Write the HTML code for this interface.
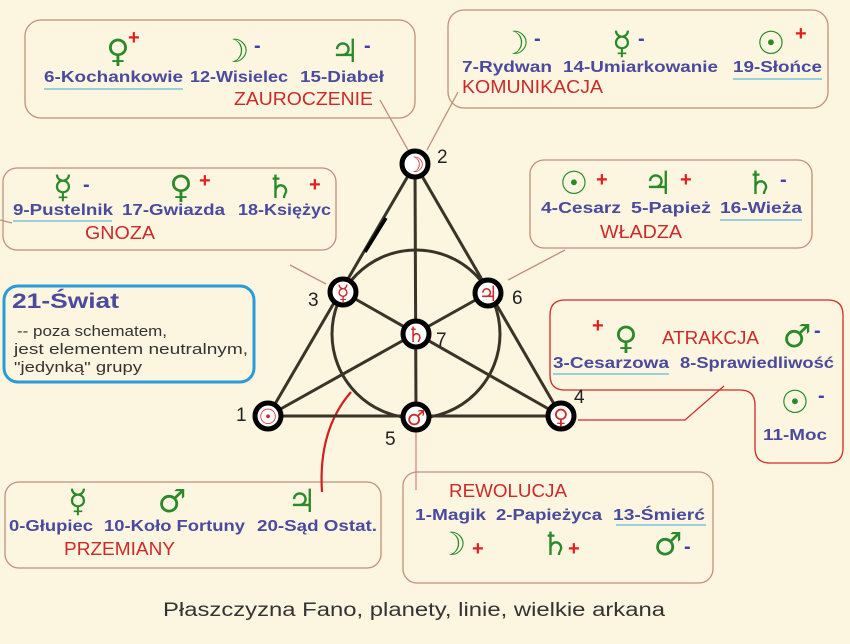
<!DOCTYPE html>
<html><head><meta charset="utf-8"><style>
html,body{margin:0;padding:0;background:#fcf5df;}
svg{display:block;}
.b{font-family:"Liberation Sans","DejaVu Sans",sans-serif;font-weight:bold;font-size:16px;fill:#4a4a9e;}
.r{font-family:"Liberation Sans","DejaVu Sans",sans-serif;font-size:18px;fill:#cc2a2a;}
.g{font-family:"DejaVu Sans",sans-serif;font-size:32px;fill:#2a8a2a;text-anchor:middle;}
.p{font-family:"Liberation Sans",sans-serif;font-weight:bold;font-size:20px;fill:#e02020;}
.m{font-family:"Liberation Sans",sans-serif;font-weight:bold;font-size:20px;fill:#4040b0;}
.n{font-family:"Liberation Sans",sans-serif;font-size:19px;fill:#222;}
.s{font-family:"DejaVu Sans",sans-serif;font-size:21px;fill:#d02a2a;text-anchor:middle;}
.t{font-family:"Liberation Sans","DejaVu Sans",sans-serif;font-size:15px;fill:#333;}
</style></head><body>
<svg width="850" height="644" viewBox="0 0 850 644" xmlns="http://www.w3.org/2000/svg">
<rect width="850" height="644" fill="#fcf5df"/>
<g fill="none" stroke="#c0907c" stroke-width="1.3">
<rect x="25" y="20" width="390" height="98" rx="16"/>
<rect x="448" y="10" width="380" height="98" rx="16"/>
<rect x="3" y="168" width="333" height="82" rx="14"/>
<rect x="530" y="160" width="282" height="88" rx="14"/>
<rect x="5" y="482" width="376" height="86" rx="14"/>
<rect x="403" y="472" width="310" height="111" rx="14"/>
<line x1="380" y1="100" x2="408" y2="150"/>
<line x1="458" y1="92" x2="427" y2="150"/>
<line x1="290" y1="265" x2="326" y2="284"/>
<line x1="565" y1="250" x2="508" y2="280"/>
<line x1="0" y1="220" x2="12" y2="223"/>
</g>
<rect x="4" y="286" width="250" height="96" rx="14" fill="none" stroke="#2a9ad8" stroke-width="3"/>
<path d="M565,300 H828 Q843,300 843,315 V448 Q843,463 828,463 H770 Q755,463 755,448 V405 Q755,390 740,390 H565 Q550,390 550,375 V315 Q550,300 565,300 Z" fill="none" stroke="#d02a2a" stroke-width="1.3"/>
<polyline points="578,420 685,420 724,386" fill="none" stroke="#d02a2a" stroke-width="1.2"/>
<line x1="416" y1="432" x2="416" y2="490" stroke="#d08080" stroke-width="1.2"/>
<path d="M351,392 Q318,430 322,492" fill="none" stroke="#d02020" stroke-width="2.2"/>
<g stroke="#3a3428" stroke-width="3" fill="none">
<line x1="415" y1="164" x2="268" y2="416"/>
<line x1="415" y1="164" x2="561" y2="416"/>
<line x1="268" y1="416" x2="561" y2="416"/>
<line x1="415" y1="164" x2="416" y2="417"/>
<line x1="343" y1="292" x2="561" y2="416"/>
<line x1="488" y1="293" x2="268" y2="416"/>
<circle cx="416" cy="334" r="84"/>
</g>
<line x1="365" y1="252" x2="386" y2="218" stroke="#000" stroke-width="3.5"/>
<g fill="#fff" stroke="#000" stroke-width="5">
<circle cx="415" cy="164" r="13"/><circle cx="343" cy="292" r="13"/><circle cx="488" cy="293" r="13"/>
<circle cx="416" cy="334" r="13"/><circle cx="268" cy="416" r="13"/><circle cx="416" cy="417" r="13"/><circle cx="561" cy="416" r="13"/>
</g>
<text class="s" x="415" y="172">☽</text><text class="s" x="343" y="300">☿</text><text class="s" x="488" y="301">♃</text>
<text class="s" x="416" y="342">♄</text><text class="s" x="268" y="424">☉</text><text class="s" x="416" y="425">♂</text><text class="s" x="561" y="424">♀</text>
<text class="n" x="437" y="163">2</text><text class="n" x="308" y="306">3</text><text class="n" x="512" y="304">6</text>
<text class="n" x="436" y="346">7</text><text class="n" x="236" y="421">1</text><text class="n" x="385" y="445">5</text><text class="n" x="574" y="403">4</text>
<!-- top-left -->
<text class="g" x="118" y="62">♀</text><text class="p" x="128" y="44">+</text>
<text class="g" x="235" y="62">☽</text><text class="m" x="254" y="52">-</text>
<text class="g" x="345" y="62">♃</text><text class="m" x="364" y="52">-</text>
<text class="b" x="44" y="82" textLength="139" lengthAdjust="spacingAndGlyphs">6-Kochankowie</text>
<text class="b" x="190" y="82" textLength="98" lengthAdjust="spacingAndGlyphs">12-Wisielec</text>
<text class="b" x="300" y="82" textLength="84" lengthAdjust="spacingAndGlyphs">15-Diabeł</text>
<line x1="44" y1="89" x2="183" y2="89" stroke="#9ad0dc" stroke-width="2"/>
<text class="r" x="234" y="105" textLength="139" lengthAdjust="spacingAndGlyphs">ZAUROCZENIE</text>
<!-- top-right -->
<text class="g" x="515" y="54">☽</text><text class="m" x="534" y="45">-</text>
<text class="g" x="622" y="54">☿</text><text class="m" x="638" y="45">-</text>
<text class="g" x="771" y="54">☉</text><text class="p" x="795" y="40">+</text>
<text class="b" x="462" y="72" textLength="90" lengthAdjust="spacingAndGlyphs">7-Rydwan</text>
<text class="b" x="563" y="72" textLength="155" lengthAdjust="spacingAndGlyphs">14-Umiarkowanie</text>
<text class="b" x="733" y="72" textLength="89" lengthAdjust="spacingAndGlyphs">19-Słońce</text>
<line x1="733" y1="79" x2="822" y2="79" stroke="#9ad0dc" stroke-width="2"/>
<text class="r" x="462" y="93" textLength="141" lengthAdjust="spacingAndGlyphs">KOMUNIKACJA</text>
<!-- gnoza -->
<text class="g" x="63" y="198">☿</text><text class="m" x="83" y="191">-</text>
<text class="g" x="181" y="198">♀</text><text class="p" x="199" y="187">+</text>
<text class="g" x="280" y="198">♄</text><text class="p" x="309" y="191">+</text>
<text class="b" x="13" y="215" textLength="100" lengthAdjust="spacingAndGlyphs">9-Pustelnik</text>
<text class="b" x="122" y="215" textLength="103" lengthAdjust="spacingAndGlyphs">17-Gwiazda</text>
<text class="b" x="238" y="215" textLength="93" lengthAdjust="spacingAndGlyphs">18-Księżyc</text>
<line x1="13" y1="221" x2="112" y2="221" stroke="#9ad0dc" stroke-width="2"/>
<text class="r" x="85" y="239" textLength="70" lengthAdjust="spacingAndGlyphs">GNOZA</text>
<!-- wladza -->
<text class="g" x="574" y="194">☉</text><text class="p" x="596" y="186">+</text>
<text class="g" x="658" y="194">♃</text><text class="p" x="680" y="186">+</text>
<text class="g" x="760" y="194">♄</text><text class="m" x="780" y="186">-</text>
<text class="b" x="541" y="213" textLength="80" lengthAdjust="spacingAndGlyphs">4-Cesarz</text>
<text class="b" x="631" y="213" textLength="80" lengthAdjust="spacingAndGlyphs">5-Papież</text>
<text class="b" x="720" y="213" textLength="82" lengthAdjust="spacingAndGlyphs">16-Wieża</text>
<line x1="720" y1="220" x2="802" y2="220" stroke="#9ad0dc" stroke-width="2"/>
<text class="r" x="600" y="238" textLength="82" lengthAdjust="spacingAndGlyphs">WŁADZA</text>
<!-- swiat -->
<text class="b" x="12" y="308" style="font-size:21px" textLength="107" lengthAdjust="spacingAndGlyphs">21-Świat</text>
<text class="t" x="17" y="336" textLength="150" lengthAdjust="spacingAndGlyphs">-- poza schematem,</text>
<text class="t" x="14" y="354" textLength="234" lengthAdjust="spacingAndGlyphs">jest elementem neutralnym,</text>
<text class="t" x="14" y="372" textLength="128" lengthAdjust="spacingAndGlyphs">"jedynką" grupy</text>
<!-- atrakcja -->
<text class="p" x="592" y="332">+</text>
<text class="g" x="626" y="349">♀</text>
<text class="r" x="662" y="344" textLength="97" lengthAdjust="spacingAndGlyphs">ATRAKCJA</text>
<text class="g" x="797" y="347">♂</text><text class="m" x="814" y="337">-</text>
<text class="b" x="553" y="368" textLength="116" lengthAdjust="spacingAndGlyphs">3-Cesarzowa</text>
<text class="b" x="680" y="368" textLength="154" lengthAdjust="spacingAndGlyphs">8-Sprawiedliwość</text>
<line x1="553" y1="374" x2="669" y2="374" stroke="#9ad0dc" stroke-width="2"/>
<text class="g" x="795" y="413">☉</text><text class="m" x="818" y="402">-</text>
<text class="b" x="763" y="440" textLength="64" lengthAdjust="spacingAndGlyphs">11-Moc</text>
<!-- przemiany -->
<text class="g" x="78" y="512">☿</text>
<text class="g" x="172" y="512">♂</text>
<text class="g" x="302" y="512">♃</text>
<text class="b" x="9" y="531" textLength="84" lengthAdjust="spacingAndGlyphs">0-Głupiec</text>
<text class="b" x="104" y="531" textLength="141" lengthAdjust="spacingAndGlyphs">10-Koło Fortuny</text>
<text class="b" x="257" y="531" textLength="120" lengthAdjust="spacingAndGlyphs">20-Sąd Ostat.</text>
<text class="r" x="64" y="555" textLength="111" lengthAdjust="spacingAndGlyphs">PRZEMIANY</text>
<!-- rewolucja -->
<text class="r" x="449" y="497" textLength="118" lengthAdjust="spacingAndGlyphs">REWOLUCJA</text>
<text class="b" x="415" y="520" textLength="71" lengthAdjust="spacingAndGlyphs">1-Magik</text>
<text class="b" x="496" y="520" textLength="106" lengthAdjust="spacingAndGlyphs">2-Papieżyca</text>
<text class="b" x="613" y="520" textLength="92" lengthAdjust="spacingAndGlyphs">13-Śmierć</text>
<line x1="616" y1="525" x2="706" y2="525" stroke="#9ad0dc" stroke-width="2"/>
<text class="g" x="452" y="555">☽</text><text class="p" x="472" y="555">+</text>
<text class="g" x="555" y="555">♄</text><text class="p" x="568" y="555">+</text>
<text class="g" x="668" y="555">♂</text><text class="m" x="684" y="553">-</text>
<text x="163" y="616" style="font-family:'Liberation Sans','DejaVu Sans',sans-serif;font-size:19px;fill:#333" textLength="502" lengthAdjust="spacingAndGlyphs">Płaszczyzna Fano, planety, linie, wielkie arkana</text>
</svg>
</body></html>
